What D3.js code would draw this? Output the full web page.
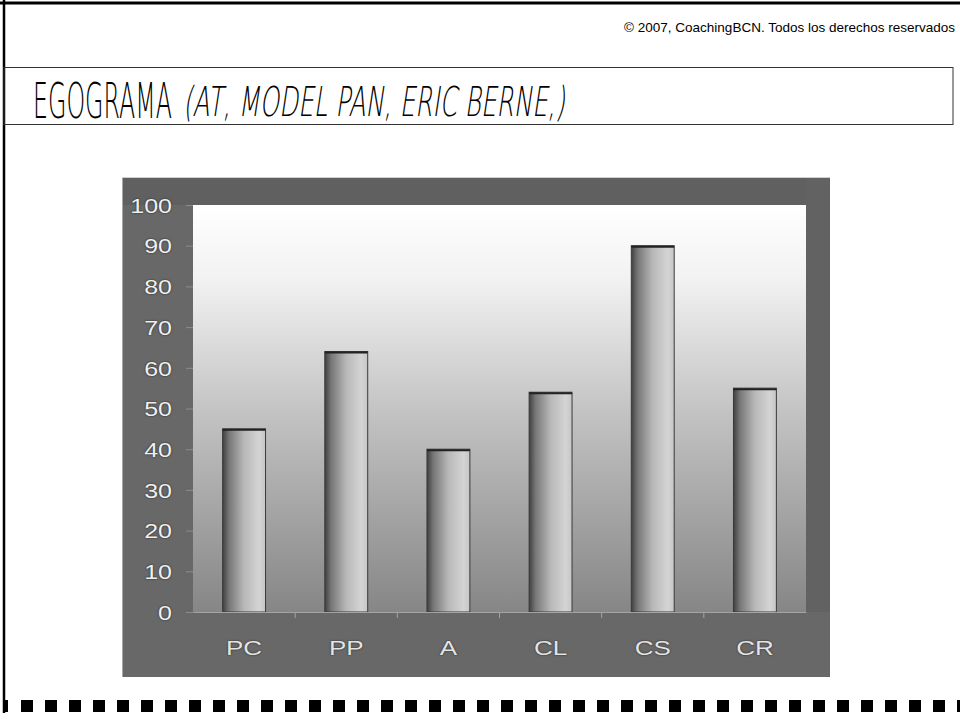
<!DOCTYPE html>
<html>
<head>
<meta charset="utf-8">
<script src="https://cdn.jsdelivr.net/npm/d3@7/dist/d3.min.js"></script>
<style>
  body { margin: 0; background: #fff; }
  svg { display: block; }
</style>
</head>
<body>
<div id="chart"></div>
<script>
// egograma values
var categories = ["PC", "PP", "A", "CL", "CS", "CR"];
var values = [45, 64, 40, 54, 90, 55];
var yTicks = [0, 10, 20, 30, 40, 50, 60, 70, 80, 90, 100];

var width = 960, height = 724;

var svg = d3.select("#chart").append("svg")
  .attr("width", width)
  .attr("height", height);

var defs = svg.append("defs");

var bg = defs.append("linearGradient").attr("id", "plotBg")
  .attr("x1", 0).attr("y1", 0).attr("x2", 0).attr("y2", 1);
bg.append("stop").attr("offset", "0%").attr("stop-color", "#ffffff");
bg.append("stop").attr("offset", "18%").attr("stop-color", "#f2f2f2");
bg.append("stop").attr("offset", "50%").attr("stop-color", "#c4c4c4");
bg.append("stop").attr("offset", "100%").attr("stop-color", "#868686");

var barGrad = defs.append("linearGradient").attr("id", "barGrad")
  .attr("x1", 0).attr("y1", 0).attr("x2", 1).attr("y2", 0);
barGrad.append("stop").attr("offset", "0%").attr("stop-color", "#404040");
barGrad.append("stop").attr("offset", "15%").attr("stop-color", "#777777");
barGrad.append("stop").attr("offset", "50%").attr("stop-color", "#b8b8b8");
barGrad.append("stop").attr("offset", "85%").attr("stop-color", "#d4d4d4");
barGrad.append("stop").attr("offset", "100%").attr("stop-color", "#c6c6c6");

// scale a text horizontally so it fills a given width
function fitText(sel, x0, y0, w, skew) {
  var len = sel.node().getComputedTextLength();
  sel.attr("transform", "translate(" + x0 + "," + y0 + ") scale(" + (w / len) + ",1)" +
    (skew ? " skewX(" + skew + ")" : ""));
}

// page frame
svg.append("line").attr("x1", 0).attr("x2", width).attr("y1", 3).attr("y2", 3)
  .attr("stroke", "#000").attr("stroke-width", 3);
svg.append("line").attr("x1", 4).attr("x2", 4).attr("y1", 0).attr("y2", 713)
  .attr("stroke", "#000").attr("stroke-width", 2.5);

svg.append("text")
  .attr("x", 955).attr("y", 32)
  .attr("text-anchor", "end")
  .attr("font-family", "Liberation Sans, Arial, sans-serif")
  .attr("font-size", 13.5)
  .text("\u00a9 2007, CoachingBCN. Todos los derechos reservados");

// title box
svg.append("rect")
  .attr("x", 4).attr("y", 67.5).attr("width", 949).attr("height", 57)
  .attr("fill", "none").attr("stroke", "#333").attr("stroke-width", 1);

var t1 = svg.append("text")
  .attr("font-family", "DejaVu Sans")
  .attr("font-weight", 200)
  .attr("font-size", 49)
  .text("EGOGRAMA");
fitText(t1, 33, 118, 139, 0);

var t2 = svg.append("text")
  .attr("font-family", "DejaVu Sans")
  .attr("font-weight", 200)
  .attr("font-size", 41)
  .text("(AT, MODEL PAN, ERIC BERNE,)");
fitText(t2, 183, 116, 382, -14);

// chart picture
var outer = { x0: 122, x1: 830, y0: 178, y1: 677 };
var plot = { x0: 193, x1: 806, y0: 205, y1: 612 };

svg.append("rect")
  .attr("x", outer.x0).attr("y", outer.y0)
  .attr("width", outer.x1 - outer.x0).attr("height", outer.y1 - outer.y0)
  .attr("fill", "#686868");
svg.append("rect")
  .attr("x", outer.x0).attr("y", outer.y0)
  .attr("width", outer.x1 - outer.x0).attr("height", plot.y0 - outer.y0)
  .attr("fill", "#606060");
svg.append("rect")
  .attr("x", plot.x1).attr("y", outer.y0)
  .attr("width", outer.x1 - plot.x1).attr("height", plot.y1 - outer.y0)
  .attr("fill", "#626262");
svg.append("line")
  .attr("x1", outer.x0).attr("x2", outer.x1).attr("y1", outer.y0 - 0.5).attr("y2", outer.y0 - 0.5)
  .attr("stroke", "#d0d0d0");
svg.append("line")
  .attr("x1", outer.x0 + 0.5).attr("x2", outer.x0 + 0.5).attr("y1", outer.y0).attr("y2", outer.y1)
  .attr("stroke", "#a8a8a8");

svg.append("rect")
  .attr("x", plot.x0).attr("y", plot.y0)
  .attr("width", plot.x1 - plot.x0).attr("height", plot.y1 - plot.y0)
  .attr("fill", "url(#plotBg)");

var x = d3.scaleBand()
  .domain(categories)
  .range([plot.x0, plot.x1])
  .paddingInner(0.58)
  .paddingOuter(0.29);

var y = d3.scaleLinear()
  .domain([0, 100])
  .range([plot.y1, plot.y0]);

svg.selectAll("rect.bar")
  .data(values)
  .enter()
  .append("rect")
  .attr("class", "bar")
  .attr("x", function(d, i) { return x(categories[i]); })
  .attr("y", function(d) { return y(d); })
  .attr("width", x.bandwidth())
  .attr("height", function(d) { return y(0) - y(d); })
  .attr("fill", "url(#barGrad)")
  .attr("stroke", "#3a3a3a")
  .attr("stroke-width", 1);

svg.selectAll("line.bartop")
  .data(values)
  .enter()
  .append("line")
  .attr("class", "bartop")
  .attr("x1", function(d, i) { return x(categories[i]); })
  .attr("x2", function(d, i) { return x(categories[i]) + x.bandwidth(); })
  .attr("y1", function(d) { return y(d) + 1; })
  .attr("y2", function(d) { return y(d) + 1; })
  .attr("stroke", "#222")
  .attr("stroke-width", 2);

// y axis (labels stretched wide like the old excel picture)
var yAxis = svg.append("g")
  .attr("transform", "translate(" + plot.x0 + ",0)")
  .call(d3.axisLeft(y).tickValues(yTicks).tickSize(7));
yAxis.select(".domain").remove();
yAxis.selectAll(".tick line").attr("stroke", "#8c8c8c");
yAxis.selectAll(".tick text")
  .attr("x", 0)
  .attr("transform", "translate(-21,0) scale(1.25,1)")
  .attr("fill", "#f0f0f0")
  .attr("font-family", "Liberation Sans, Arial, sans-serif")
  .attr("font-size", 20)
  .attr("dy", "0.36em")
  .style("text-shadow", "0 0 2px #1a1a1a");

// x axis
var xAxis = svg.append("g")
  .attr("transform", "translate(0," + plot.y1 + ")")
  .call(d3.axisBottom(x).tickSize(0));
xAxis.select(".domain").attr("stroke", "#a4a4a4");
xAxis.selectAll(".tick text")
  .attr("y", 0)
  .attr("dy", 0)
  .attr("transform", "translate(0,43) scale(1.3,1)")
  .attr("fill", "#e4e4e4")
  .attr("font-family", "Liberation Sans, Arial, sans-serif")
  .attr("font-size", 20)
  .style("text-shadow", "0 0 2px #1a1a1a");

svg.selectAll("line.sep")
  .data(categories.slice(1))
  .enter()
  .append("line")
  .attr("class", "sep")
  .attr("x1", function(d) { return x(d) - x.step() * x.paddingInner() / 2; })
  .attr("x2", function(d) { return x(d) - x.step() * x.paddingInner() / 2; })
  .attr("y1", plot.y1)
  .attr("y2", plot.y1 + 6)
  .attr("stroke", "#a4a4a4");

// dashed footer
var squares = d3.range(21, width, 24);
svg.selectAll("rect.sq")
  .data(squares)
  .enter()
  .append("rect")
  .attr("class", "sq")
  .attr("x", function(d) { return d; })
  .attr("y", 700)
  .attr("width", 12)
  .attr("height", 12)
  .attr("fill", "#000");
svg.append("rect").attr("x", 3).attr("y", 700).attr("width", 5).attr("height", 12).attr("fill", "#000");
</script>
</body>
</html>
